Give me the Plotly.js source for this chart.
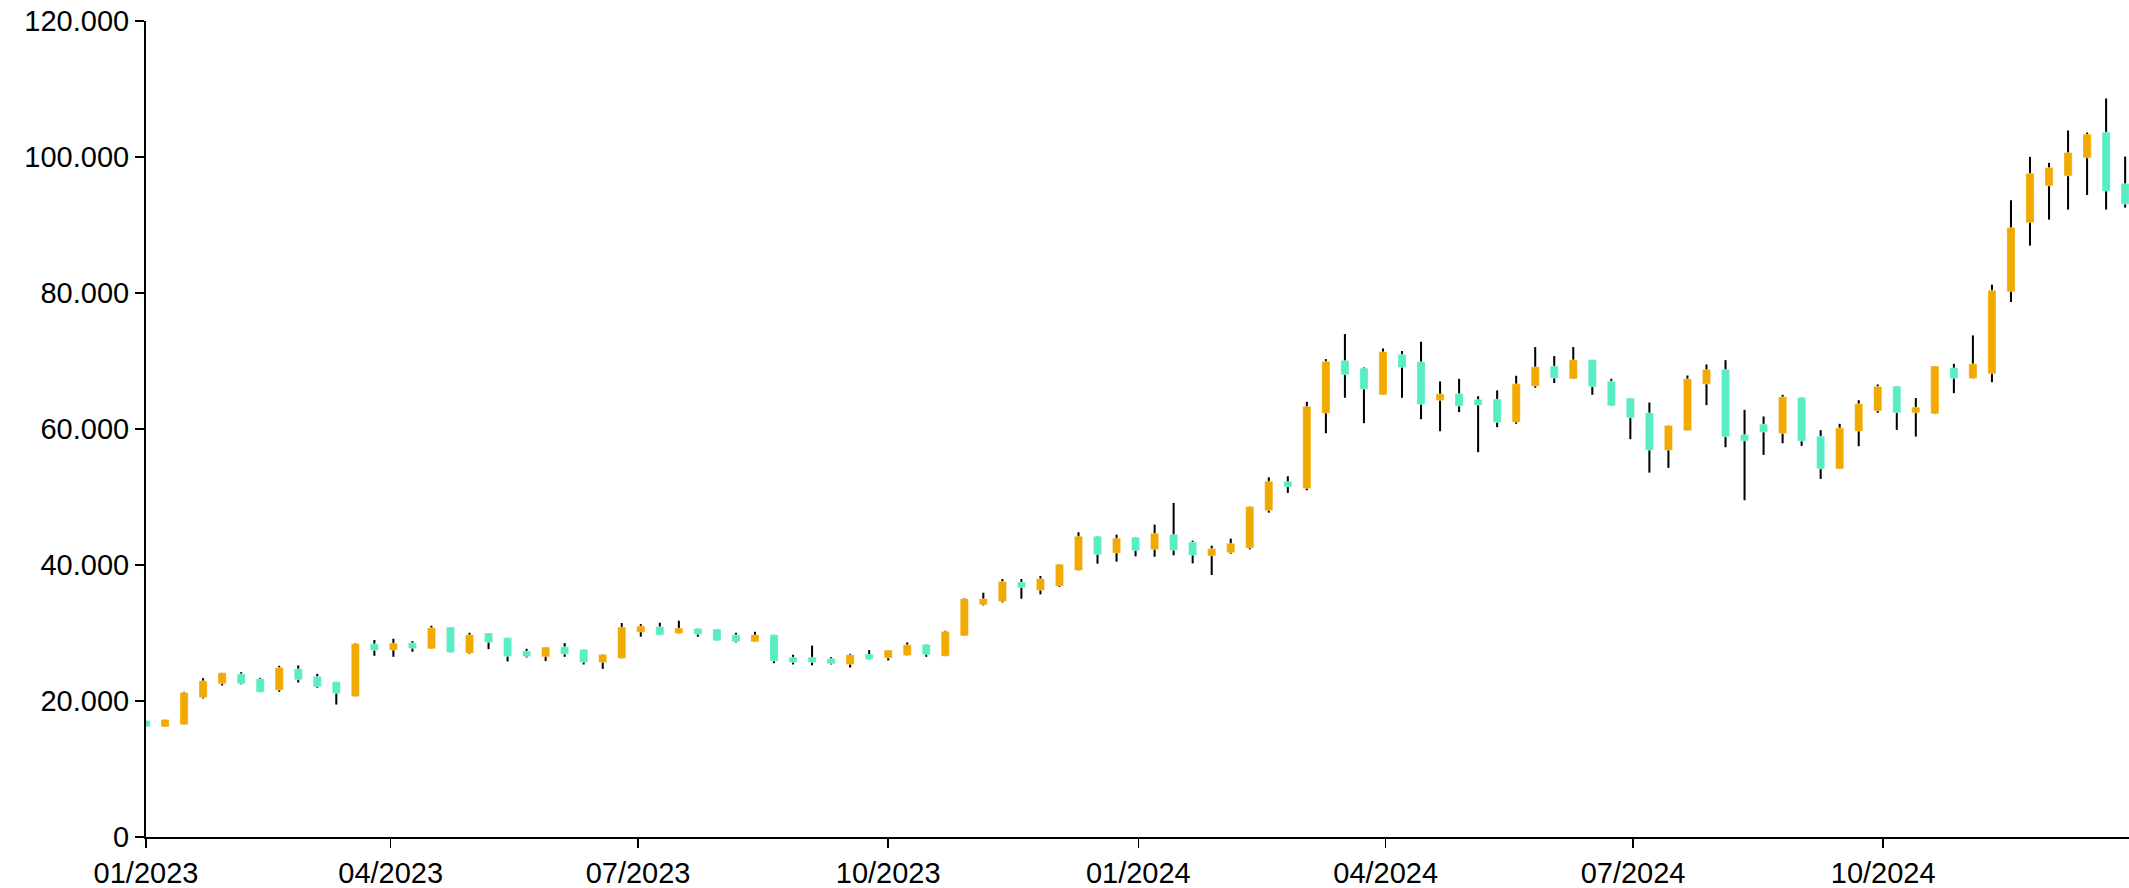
<!DOCTYPE html>
<html>
<head>
<meta charset="utf-8">
<script src="https://cdn.plot.ly/plotly-3.0.1.min.js"></script>
<style>
  html, body { margin: 0; padding: 0; background: #ffffff; }
  #chart { width: 2129px; height: 888px; }
</style>
</head>
<body>
<div id="chart"></div>
<script>
// Weekly candles (week-ending dates)
const weeks = [
  '2023-01-01','2023-01-08','2023-01-15','2023-01-22','2023-01-29',
  '2023-02-05','2023-02-12','2023-02-19','2023-02-26',
  '2023-03-05','2023-03-12','2023-03-19','2023-03-26',
  '2023-04-02','2023-04-09','2023-04-16','2023-04-23','2023-04-30',
  '2023-05-07','2023-05-14','2023-05-21','2023-05-28',
  '2023-06-04','2023-06-11','2023-06-18','2023-06-25',
  '2023-07-02','2023-07-09','2023-07-16','2023-07-23','2023-07-30',
  '2023-08-06','2023-08-13','2023-08-20','2023-08-27',
  '2023-09-03','2023-09-10','2023-09-17','2023-09-24',
  '2023-10-01','2023-10-08','2023-10-15','2023-10-22','2023-10-29',
  '2023-11-05','2023-11-12','2023-11-19','2023-11-26',
  '2023-12-03','2023-12-10','2023-12-17','2023-12-24','2023-12-31',
  '2024-01-07','2024-01-14','2024-01-21','2024-01-28',
  '2024-02-04','2024-02-11','2024-02-18','2024-02-25',
  '2024-03-03','2024-03-10','2024-03-17','2024-03-24','2024-03-31',
  '2024-04-07','2024-04-14','2024-04-21','2024-04-28',
  '2024-05-05','2024-05-12','2024-05-19','2024-05-26',
  '2024-06-02','2024-06-09','2024-06-16','2024-06-23','2024-06-30',
  '2024-07-07','2024-07-14','2024-07-21','2024-07-28',
  '2024-08-04','2024-08-11','2024-08-18','2024-08-25',
  '2024-09-01','2024-09-08','2024-09-15','2024-09-22','2024-09-29',
  '2024-10-06','2024-10-13','2024-10-20','2024-10-27',
  '2024-11-03','2024-11-10','2024-11-17','2024-11-24',
  '2024-12-01','2024-12-08','2024-12-15','2024-12-22','2024-12-29'
];

const openPrices = [
  17130,16200,16540,20510,22530,24000,23260,21590,24730,23610,
  22820,20660,28420,27480,28560,27680,30870,27040,29990,29300,
  27340,26500,27970,27580,25670,26260,30130,30920,29940,30670,
  30580,29740,28710,29740,26450,26450,26260,25370,26890,26310,
  26700,28320,26600,29590,34160,34650,37490,36270,36910,39210,
  44220,41760,44070,42260,44510,43380,41320,41810,42500,48000,
  52270,51240,62330,70080,68950,65030,70970,69890,64190,65220,
  64340,64390,61000,66300,69250,67380,70180,67040,64540,62380,
  56880,59780,66600,68760,59190,60710,59330,64630,58940,54130,
  59680,62670,66300,62380,62230,69000,67430,68120,80190,90350,
  95750,97220,99870,103650,96090
];
const highPrices = [
  17130,17280,21350,23360,24150,24240,23410,25180,25230,24000,
  22820,28500,28960,29150,28810,31070,30870,30040,29990,29300,
  27680,27930,28510,27580,26850,31460,31310,31510,31800,30670,
  30580,30040,30180,29740,26800,28150,26450,26940,27480,27480,
  28610,28320,30330,35100,35920,37940,37940,38380,40100,44810,
  44220,44460,44070,45940,49130,43580,42840,43880,48590,52900,
  53050,64000,70280,73960,69050,71850,71460,72830,66990,67380,
  64830,65670,67830,72050,70720,72050,70180,67380,64540,63900,
  60510,67870,69490,70130,62820,61840,65030,64630,59830,60760,
  64240,66550,66300,64540,69250,69590,73760,81220,93640,100020,
  99140,103900,103600,108610,100070
];
const lowPrices = [
  16240,16200,16540,20370,22280,22450,21300,21350,22720,21940,
  19480,20660,26650,26500,27240,27680,27140,26940,27630,25810,
  26400,25860,26500,25370,24730,26260,29450,29690,29940,29450,
  28860,28610,28710,25570,25370,25250,25370,24930,26110,25960,
  26700,26500,26600,29590,34060,34500,35040,35680,36760,39210,
  40190,40490,41270,41220,41420,40240,38530,41670,42300,47700,
  50600,50990,59380,64590,60860,65030,64590,61440,59680,62480,
  56590,60270,60760,66060,66750,67380,65030,63410,58500,53590,
  54280,59780,63510,57320,49520,56190,57910,57520,52660,54130,
  57470,62380,59870,58890,62230,65270,67430,66890,78670,86970,
  90790,92270,94420,92270,92560
];
const closePrices = [
  16240,17280,21250,22970,24150,22530,21300,24930,23120,22080,
  21100,28420,27430,28510,27730,30770,27140,29740,28610,26550,
  26550,27930,26890,25670,26850,30870,31020,29690,30720,29790,
  28860,28710,29740,25860,25670,25670,25470,26800,26110,27480,
  28270,26800,30230,35040,35040,37590,36660,37990,40100,44220,
  41520,43920,42110,44660,42160,41420,42400,43190,48590,52320,
  51480,63310,69940,67970,65860,71360,69050,63600,65170,63360,
  63510,60950,66650,69150,67480,70180,66200,63410,61640,56880,
  60510,67380,68760,58840,58250,59530,64730,58210,54130,60170,
  63700,66250,62380,63210,69250,67430,69590,80390,89620,97610,
  98450,100660,103360,94970,93050
];

const yTickValues = [0, 20000, 40000, 60000, 80000, 100000, 120000];

const upColor = '#F2A900';
const downColor = '#58EDC5';

const DAY = 86400000;
const bodyBase = [], bodyHeight = [], bodyColor = [];
const wickBase = [], wickHeight = [];
for (let i = 0; i < weeks.length; i++) {
  const o = openPrices[i], c = closePrices[i];
  bodyBase.push(Math.min(o, c));
  bodyHeight.push(Math.abs(c - o));
  bodyColor.push(c >= o ? upColor : downColor);
  wickBase.push(lowPrices[i]);
  wickHeight.push(highPrices[i] - lowPrices[i]);
}

const wicks = {
  type: 'bar',
  x: weeks,
  base: wickBase,
  y: wickHeight,
  width: 0.75 * DAY,
  marker: { color: '#000000', line: { width: 0 } },
  hoverinfo: 'skip',
  showlegend: false
};

const bodies = {
  type: 'bar',
  x: weeks,
  base: bodyBase,
  y: bodyHeight,
  width: 3 * DAY,
  marker: { color: bodyColor, line: { width: 1, color: 'rgba(255,255,255,0.35)' } },
  customdata: weeks.map((w, i) => [openPrices[i], highPrices[i], lowPrices[i], closePrices[i]]),
  hovertemplate: '%{x}<br>O %{customdata[0]}<br>H %{customdata[1]}<br>L %{customdata[2]}<br>C %{customdata[3]}<extra></extra>',
  showlegend: false
};

const font = { family: 'Liberation Sans, Arial, sans-serif', size: 29, color: '#000000' };

const layout = {
  width: 2129,
  height: 888,
  margin: { l: 146, r: 0, t: 21, b: 51, pad: 0 },
  paper_bgcolor: '#ffffff',
  plot_bgcolor: '#ffffff',
  barmode: 'overlay',
  separators: ',.',
  showlegend: false,
  font: font,
  xaxis: {
    type: 'date',
    range: ['2023-01-01', '2024-12-30 10:00'],
    tick0: '2023-01-01',
    dtick: 'M3',
    tickformat: '%m/%Y',
    showgrid: false,
    zeroline: false,
    showline: true,
    linecolor: '#000000',
    linewidth: 2,
    ticks: 'outside',
    ticklen: 9,
    tickwidth: 1.5,
    tickcolor: '#000000',
    tickfont: font
  },
  yaxis: {
    range: [0, 120000],
    tickmode: 'array',
    tickvals: yTickValues,
    tickformat: ',d',
    showgrid: false,
    zeroline: false,
    showline: true,
    linecolor: '#000000',
    linewidth: 2,
    ticks: 'outside',
    ticklen: 9,
    tickwidth: 1.5,
    tickcolor: '#000000',
    tickfont: font
  }
};

Plotly.newPlot('chart', [wicks, bodies], layout, { displayModeBar: false, staticPlot: true });
</script>
</body>
</html>
